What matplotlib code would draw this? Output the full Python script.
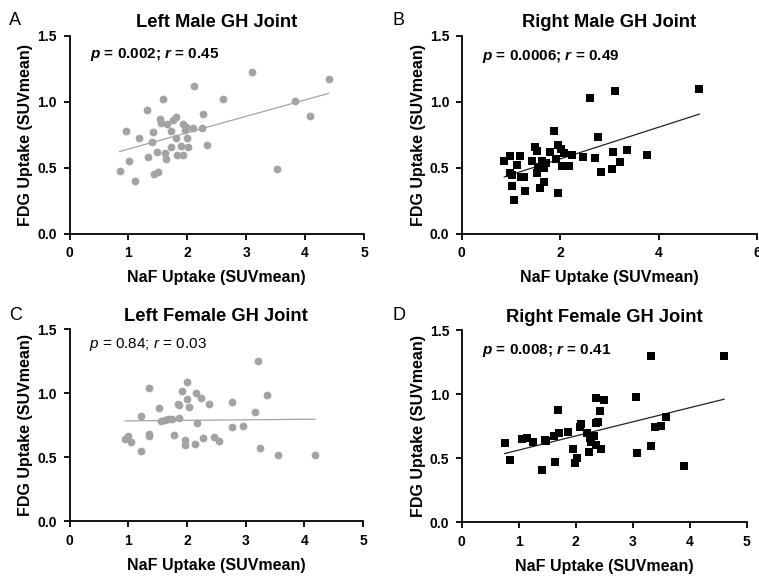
import matplotlib
matplotlib.use("Agg")
import matplotlib.pyplot as plt
import numpy as np

plt.rcParams['font.family'] = ['Liberation Sans', 'DejaVu Sans']
plt.rcParams['mathtext.fontset'] = 'custom'
plt.rcParams['mathtext.it'] = 'Liberation Sans:italic'
plt.rcParams['mathtext.bfit'] = 'Liberation Sans:italic:bold'

# A - left male (NaF, FDG)
lm_naf = [0.85, 1.01, 1.12, 0.96, 1.18, 1.31, 1.34, 1.40, 1.41, 1.43, 1.51, 1.49, 1.54, 1.545,
          1.59, 1.62, 1.64, 1.66, 1.73, 1.73, 1.75, 1.81, 1.81, 1.82, 1.89, 1.92, 1.93, 1.97,
          1.96, 2.00, 2.01, 2.09, 2.12, 2.26, 2.25, 2.33, 2.60, 3.10, 3.52, 3.83, 4.09, 4.40]
lm_fdg = [0.477, 0.55, 0.40, 0.78, 0.727, 0.934, 0.58, 0.694, 0.77, 0.452, 0.465, 0.62, 0.866, 0.836,
          1.018, 0.61, 0.563, 0.828, 0.78, 0.654, 0.861, 0.886, 0.727, 0.596, 0.662, 0.831, 0.596, 0.81,
          0.785, 0.722, 0.654, 0.80, 1.119, 0.904, 0.80, 0.672, 1.023, 1.222, 0.492, 1.005, 0.889, 1.169]

# B - right male
rm_naf = [0.865, 0.99, 0.99, 1.02, 1.02, 1.07, 1.12, 1.19, 1.21, 1.26, 1.28, 1.43, 1.49, 1.53,
          1.54, 1.56, 1.59, 1.63, 1.67, 1.68, 1.72, 1.79, 1.87, 1.91, 1.96, 1.96, 2.01, 2.04,
          2.07, 2.17, 2.25, 2.47, 2.60, 2.70, 2.76, 2.84, 3.05, 3.07, 3.11, 3.22, 3.35, 3.77, 4.83]
rm_fdg = [0.55, 0.586, 0.457, 0.444, 0.359, 0.258, 0.52, 0.586, 0.432, 0.432, 0.32, 0.55, 0.657, 0.626,
          0.46, 0.505, 0.348, 0.55, 0.394, 0.50, 0.533, 0.616, 0.775, 0.563, 0.308, 0.672, 0.644, 0.513,
          0.611, 0.513, 0.598, 0.578, 1.028, 0.57, 0.735, 0.467, 0.49, 0.618, 1.078, 0.543, 0.634, 0.598, 1.096]

# C - left female
lf_naf = [0.95, 1.00, 1.04, 1.22, 1.21, 1.35, 1.35, 1.36, 1.53, 1.56, 1.63, 1.68, 1.74, 1.78,
          1.84, 1.87, 1.87, 1.92, 1.96, 1.96, 2.00, 2.01, 2.04, 2.14, 2.16, 2.17, 2.24, 2.27,
          2.38, 2.47, 2.54, 2.76, 2.77, 2.96, 3.16, 3.21, 3.24, 3.37, 3.55, 4.18]
lf_fdg = [0.64, 0.667, 0.617, 0.549, 0.826, 1.044, 0.669, 0.685, 0.888, 0.784, 0.792, 0.797, 0.797, 0.674,
          0.917, 0.906, 0.81, 1.018, 0.635, 0.596, 0.958, 1.089, 0.893, 0.604, 1.0, 0.771, 0.966, 0.651,
          0.914, 0.659, 0.628, 0.737, 0.932, 0.747, 0.857, 1.25, 0.57, 0.99, 0.521, 0.518]

# D - right female
rf_naf = [0.754, 0.842, 1.064, 1.152, 1.257, 1.409, 1.456, 1.485, 1.614, 1.637, 1.696, 1.713, 1.871,
          1.953, 1.994, 2.023, 2.076, 2.099, 2.205, 2.234, 2.257, 2.275, 2.327, 2.351, 2.357, 2.351,
          2.398, 2.427, 2.439, 2.497, 3.058, 3.076, 3.316, 3.327, 3.392, 3.491, 3.591, 3.895, 4.602]
rf_fdg = [0.615, 0.487, 0.648, 0.659, 0.625, 0.411, 0.641, 0.638, 0.677, 0.469, 0.875, 0.695, 0.703,
          0.568, 0.466, 0.505, 0.745, 0.763, 0.693, 0.552, 0.656, 0.630, 0.672, 0.971, 0.771, 0.602,
          0.781, 0.865, 0.570, 0.953, 0.974, 0.542, 0.596, 1.294, 0.74, 0.75, 0.823, 0.4375, 1.30]

titles = ["Left Male GH Joint", "Right Male GH Joint", "Left Female GH Joint", "Right Female GH Joint"]
stats = [r"$\mathbfit{p}$ = 0.002; $\mathbfit{r}$ = 0.45",
         r"$\mathbfit{p}$ = 0.0006; $\mathbfit{r}$ = 0.49",
         r"$\mathit{p}$ = 0.84; $\mathit{r}$ = 0.03",
         r"$\mathbfit{p}$ = 0.008; $\mathbfit{r}$ = 0.41"]
letters = ["A", "B", "C", "D"]

W, H = 759, 576
fig = plt.figure(figsize=(W / 100, H / 100), dpi=100)


def px_axes(x0, x1, ytop, ybot):
    return fig.add_axes([x0 / W, 1 - ybot / H, (x1 - x0) / W, (ybot - ytop) / H])


axs = [px_axes(69.5, 364, 35.7, 233.7),
       px_axes(461.7, 757, 35.7, 233.7),
       px_axes(69.5, 363, 329.3, 521.3),
       px_axes(461.7, 746.7, 330, 522.3)]

data = [(lm_naf, lm_fdg), (rm_naf, rm_fdg), (lf_naf, lf_fdg), (rf_naf, rf_fdg)]
xmaxes = [5, 6, 5, 5]
xsteps = [1, 2, 1, 1]
gray = '#a3a3a3'
styles = [('o', gray, gray), ('s', 'black', '#222222'), ('o', gray, gray), ('s', 'black', '#222222')]
stat_pos = [(0.07, 0.885), (0.068, 0.877), (0.067, 0.905), (0.072, 0.875)]
letter_pos = [(9, 25), (393, 25), (9, 320), (393, 320)]

for i, ax in enumerate(axs):
    x = np.array(data[i][0])
    y = np.array(data[i][1])
    mk, col, lcol = styles[i]
    ms = 5.6 if mk == 'o' else 5.2
    ax.plot(x, y, mk, color=col, ms=ms, mew=0, clip_on=False, zorder=3)
    k, b = np.polyfit(x, y, 1)
    xx = np.array([x.min(), x.max()])
    ax.plot(xx, k * xx + b, color=lcol, lw=0.9, zorder=2)

    ax.set_xlim(0, xmaxes[i])
    ax.set_ylim(0, 1.5)
    ax.set_xticks(np.arange(0, xmaxes[i] + 0.1, xsteps[i]))
    ax.set_yticks([0, 0.5, 1.0, 1.5])
    ax.set_yticklabels(['0.0', '0.5', '1.0', '1.5'])
    for s in ['top', 'right']:
        ax.spines[s].set_visible(False)
    for s in ['left', 'bottom']:
        ax.spines[s].set_linewidth(1.3)
    ax.tick_params(direction='out', length=4.5, width=1.3, labelsize=10, pad=4.5)
    for lab in ax.get_xticklabels() + ax.get_yticklabels():
        lab.set_fontweight('bold')
    ax.set_xlabel("NaF Uptake (SUVmean)", fontsize=11.5, fontweight='bold', labelpad=7)
    ax.set_ylabel("FDG Uptake (SUVmean)", fontsize=11.5, fontweight='bold', labelpad=3)
    ax.set_title(titles[i], fontsize=13.2, fontweight='bold', pad=6)
    ax.text(stat_pos[i][0], stat_pos[i][1], stats[i], transform=ax.transAxes,
            fontsize=11, fontweight='normal' if i == 2 else 'bold', va='baseline')
    fig.text(letter_pos[i][0] / W, 1 - letter_pos[i][1] / H, letters[i], fontsize=13, va='baseline')

fig.savefig("out.png", dpi=100)
